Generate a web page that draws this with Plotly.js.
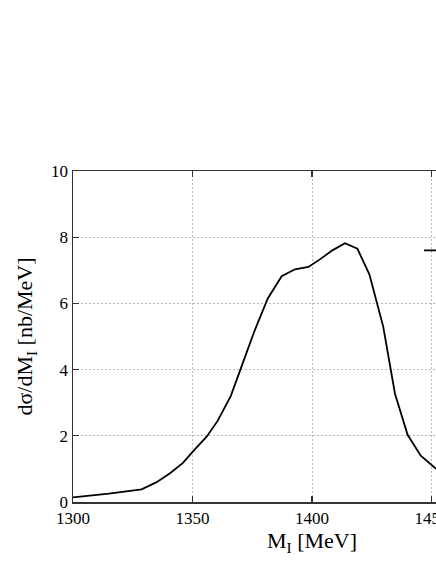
<!DOCTYPE html>
<html>
<head>
<meta charset="utf-8">
<script src="https://cdn.plot.ly/plotly-3.0.1.min.js"></script>
<style>
html,body{margin:0;padding:0;overflow:hidden;background:#fff;}
#chart{width:640px;height:564px;}
</style>
</head>
<body>
<div id="chart"></div>
<script>
// Invariant mass M_I [MeV]
const massMeV = [1300, 1315, 1328.7, 1335, 1340.6, 1346, 1350.5, 1356, 1360.5, 1366, 1370.8, 1376, 1381.5, 1387.3, 1392.9, 1398.5, 1403.3, 1408.7, 1413.8, 1419, 1424, 1429.8, 1434.7, 1440, 1445.5, 1451.5, 1457];
// dσ/dM_I [nb/MeV]
const dSigma = [0.14, 0.25, 0.38, 0.6, 0.87, 1.18, 1.55, 1.98, 2.45, 3.2, 4.15, 5.18, 6.15, 6.82, 7.03, 7.1, 7.33, 7.61, 7.82, 7.65, 6.88, 5.3, 3.28, 2.03, 1.4, 1.03, 0.8];
const xTicks = [1300, 1350, 1400, 1450, 1500];
const yTicks = [0, 2, 4, 6, 8, 10];

const font = 'Liberation Serif, Times New Roman, serif';

const trace = {
  x: massMeV, y: dSigma, type: 'scatter', mode: 'lines',
  name: 'total',
  line: {color: '#000', width: 1.8},
  showlegend: true
};

const axisCommon = {
  showline: true, linecolor: '#333', linewidth: 1.5, mirror: 'ticks',
  ticks: 'inside', ticklen: 6, tickwidth: 1.2, tickcolor: '#333',
  showgrid: true, gridcolor: '#b8b8b8', gridwidth: 1, griddash: '2px,2px',
  zeroline: false,
  tickfont: {family: font, size: 17, color: '#000'}
};

const layout = {
  width: 640, height: 564,
  margin: {l: 73, r: 89, t: 171, b: 62},
  paper_bgcolor: '#fff', plot_bgcolor: '#fff',
  showlegend: true,
  legend: {x: 0.724, y: 0.811, xanchor: 'left', yanchor: 'top', bgcolor: 'rgba(0,0,0,0)',
           font: {family: font, size: 16, color: '#000'}},
  xaxis: Object.assign({}, axisCommon, {
    range: [1300, 1500], tickvals: xTicks, ticktext: xTicks.map(String),
    title: {text: 'M<sub>I</sub> [MeV]', font: {family: font, size: 22, color: '#000'}, standoff: 2}
  }),
  yaxis: Object.assign({}, axisCommon, {
    range: [0, 10], tickvals: yTicks, ticktext: yTicks.map(String),
    title: {text: 'dσ/dM<sub>I</sub> [nb/MeV]', font: {family: font, size: 22, color: '#000'}, standoff: 12}
  })
};

Plotly.newPlot('chart', [trace], layout, {displayModeBar: false, staticPlot: true});
</script>
</body>
</html>
